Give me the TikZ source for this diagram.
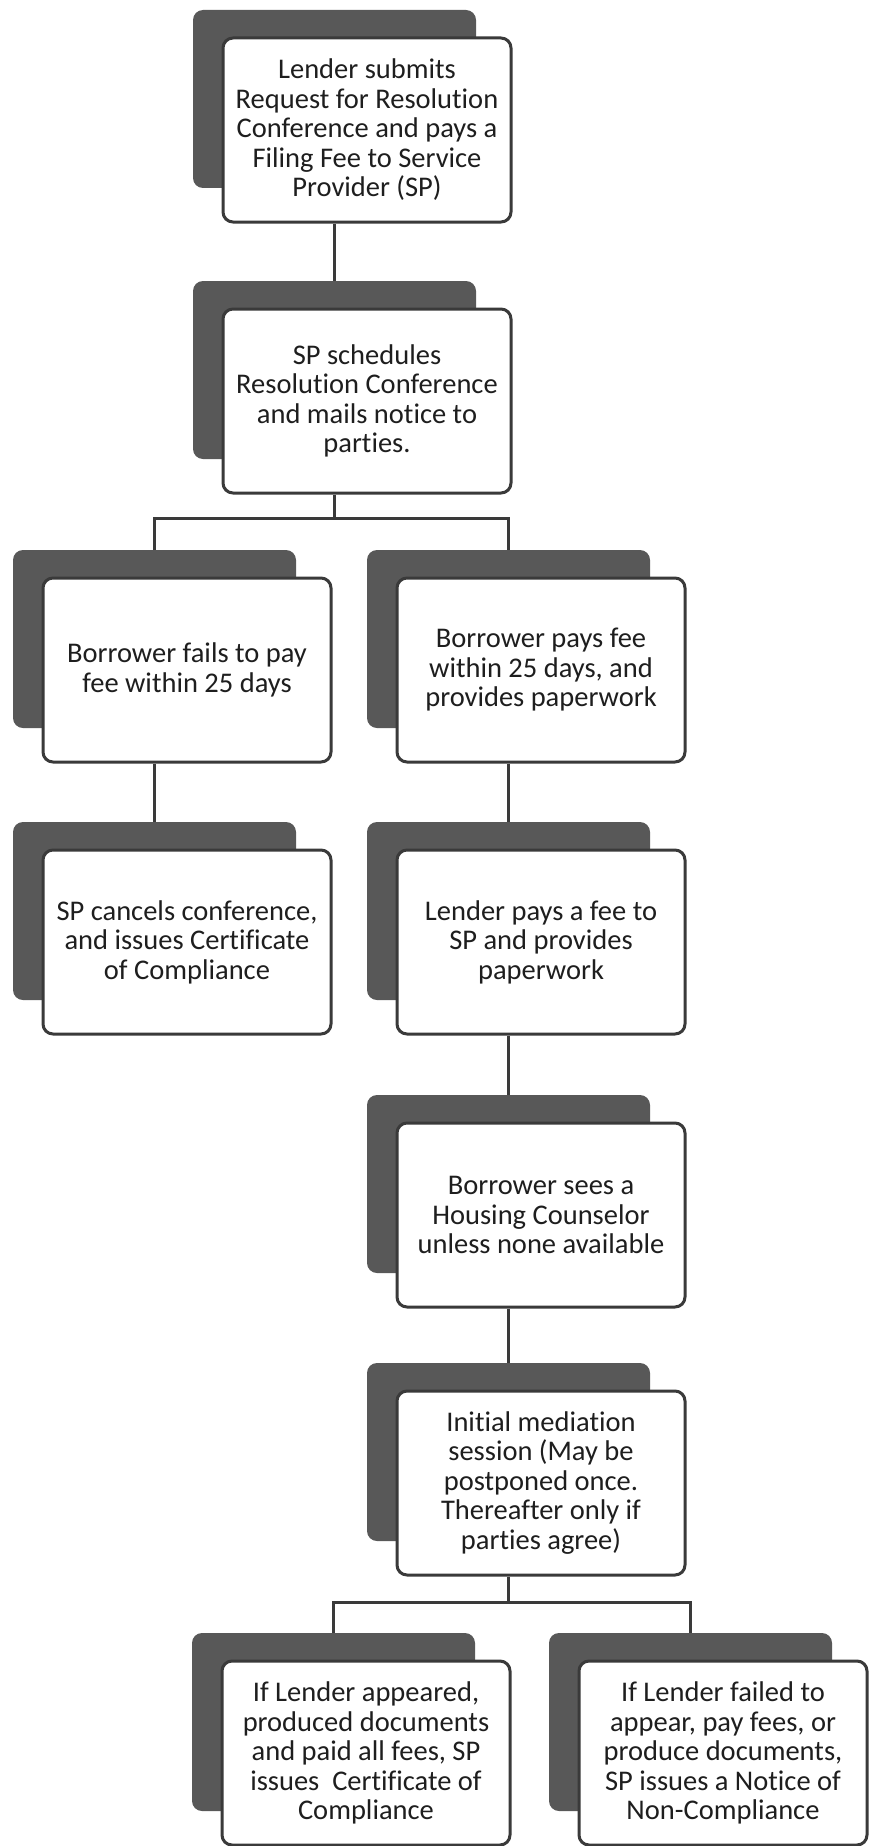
\documentclass[tikz,border=0pt]{standalone}
\usepackage{fontspec}
\setmainfont{Carlito}[Ligatures=NoCommon]
\definecolor{shadowgray}{HTML}{585858}
\definecolor{edgegray}{HTML}{3A3A3A}
\definecolor{textgray}{HTML}{1E1E1E}
\tikzset{
  backbox/.style={draw=none, fill=shadowgray, rounded corners=10pt, minimum width=283pt, minimum height=178pt, inner sep=0pt},
  frontbox/.style={draw=edgegray, line width=3pt, fill=white, rounded corners=10pt, minimum width=288pt, minimum height=184pt, inner sep=0pt, align=center, text=textgray, font=\fontsize{28.5}{29.5}\selectfont},
  link/.style={draw=edgegray, line width=3.5pt}
}
\newcommand\flowbox[4]{%
  \node[backbox] (#1s) at ({#2+141.5},{#3+89}) {};
  \node[frontbox] (#1) at ({#2+174},{#3+120}) {#4};
}
\begin{document}
\begin{tikzpicture}[x=1pt,y=-1pt]
\useasboundingbox[fill=white] (0,0) rectangle (870,1846);
\flowbox{b1}{193}{10}{Lender submits\\Request for Resolution\\Conference and pays a\\Filing Fee to Service\\Provider (SP)}
\flowbox{b2}{193}{281}{SP schedules\\Resolution Conference\\and mails notice to\\parties.}
\flowbox{b3}{13}{550}{Borrower fails to pay\\fee within 25 days}
\flowbox{b4}{367}{550}{Borrower pays fee\\within 25 days, and\\provides paperwork}
\flowbox{b5}{13}{822}{SP cancels conference,\\and issues Certificate\\of Compliance}
\flowbox{b6}{367}{822}{Lender pays a fee to\\SP and provides\\paperwork}
\flowbox{b7}{367}{1095}{Borrower sees a\\Housing Counselor\\unless none available}
\flowbox{b8}{367}{1363}{Initial mediation\\session (May be\\postponed once.\\Thereafter only if\\parties agree)}
\flowbox{b9}{192}{1633}{If Lender appeared,\\produced documents\\and paid all fees, SP\\issues\ \ Certificate of\\Compliance}
\flowbox{b10}{549}{1633}{If Lender failed to\\appear, pay fees, or\\produce documents,\\SP issues a Notice of\\Non-Compliance}
% connectors
\draw[link] (b1.south -| b1s.center) -- (b2s.north);
\coordinate (j2) at ([yshift=-24pt]b2.south -| b2s.center);
\draw[link] (b2.south -| b2s.center) -- (j2);
\draw[link] (b3s.north) |- (j2) -| (b4s.north);
\draw[link] (b3.south -| b3s.center) -- (b5s.north);
\draw[link] (b4.south -| b4s.center) -- (b6s.north);
\draw[link] (b6.south -| b6s.center) -- (b7s.north);
\draw[link] (b7.south -| b7s.center) -- (b8s.north);
\coordinate (j8) at ([yshift=-26pt]b8.south -| b8s.center);
\draw[link] (b8.south -| b8s.center) -- (j8);
\draw[link] (b9s.north) |- (j8) -| (b10s.north);
\end{tikzpicture}
\end{document}
